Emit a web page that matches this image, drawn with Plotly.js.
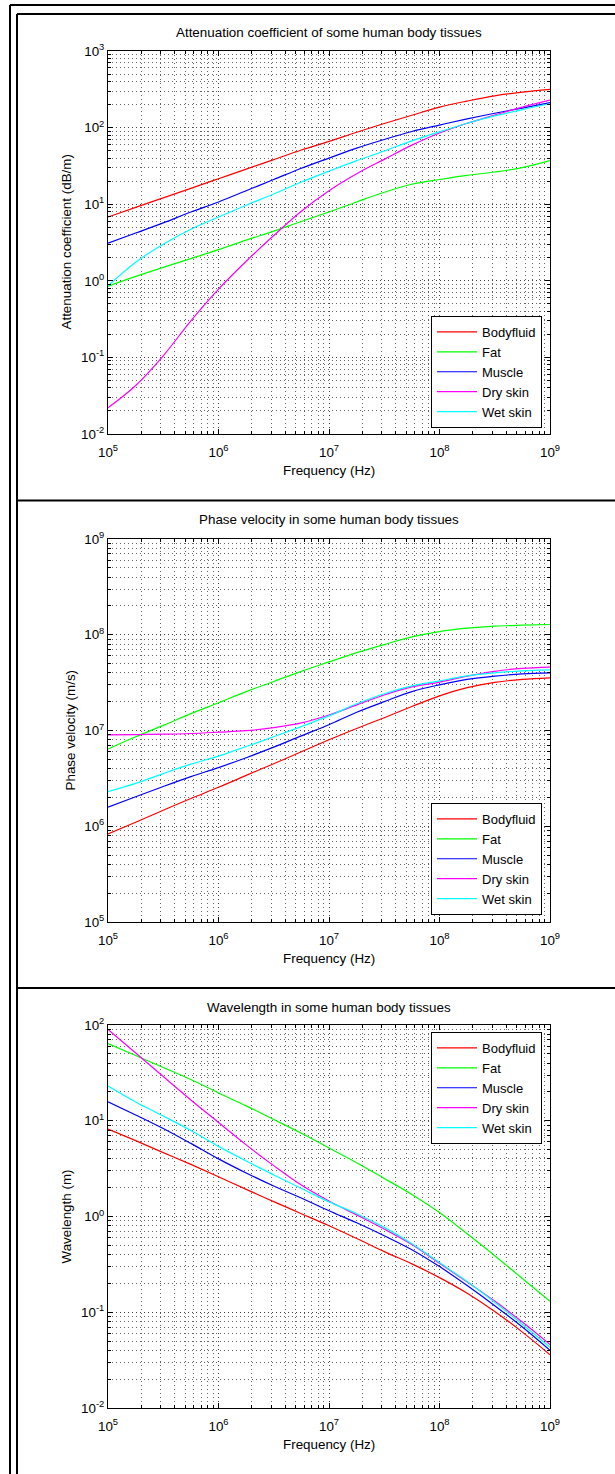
<!DOCTYPE html>
<html><head><meta charset="utf-8">
<script src="https://cdn.plot.ly/plotly-3.0.1.min.js"></script>
<style>html,body{margin:0;padding:0;background:#fff;}#chart{width:615px;height:1474px;}</style>
</head><body><div id="chart"></div>
<script>
// ---------------- data (quarter-decade steps) ----------------
const freq = [1e5,1.78e5,3.16e5,5.62e5,1e6,1.78e6,3.16e6,5.62e6,1e7,1.78e7,3.16e7,5.62e7,1e8,1.78e8,3.16e8,5.62e8,1e9];
const tissues = ['Bodyfluid','Fat','Muscle','Dry skin','Wet skin'];

// Attenuation coefficient (dB/m)
const attBodyfluid = [6.8,9.1,12.1,16.1,21.5,28.7,38.2,51,66,87,113,145,185,222,260,290,315];
const attFat       = [0.85,1.14,1.5,1.95,2.55,3.4,4.45,5.95,7.9,10.7,14.3,18.2,21,23.8,26.3,30,37];
const attMuscle    = [3.1,4.2,5.7,7.9,10.7,15,21,29.5,40,54,70,89,108,130,154,180,212];
const attDrySkin   = [0.022,0.043,0.105,0.3,0.78,1.8,3.9,8.1,15,25,38.5,59,85,114,146,185,228];
const attWetSkin   = [0.86,1.75,3.0,4.7,6.8,9.7,13.6,19.5,27,37,49.5,67,88,114,142,172,205];

// Phase velocity (m/s)
const velBodyfluid = [8.3e5,1.1e6,1.47e6,1.95e6,2.55e6,3.4e6,4.5e6,6.0e6,8.0e6,1.05e7,1.36e7,1.78e7,2.3e7,2.8e7,3.18e7,3.42e7,3.55e7];
const velFat       = [6.4e6,8.6e6,1.13e7,1.5e7,1.95e7,2.55e7,3.25e7,4.15e7,5.2e7,6.5e7,7.9e7,9.5e7,1.08e8,1.17e8,1.23e8,1.26e8,1.28e8];
const velMuscle    = [1.58e6,2.03e6,2.6e6,3.3e6,4.1e6,5.2e6,6.7e6,8.8e6,1.15e7,1.55e7,2.0e7,2.55e7,3.0e7,3.42e7,3.7e7,3.9e7,4.0e7];
const velDrySkin   = [9.0e6,9.05e6,9.15e6,9.3e6,9.6e6,9.95e6,1.07e7,1.2e7,1.45e7,1.85e7,2.35e7,2.85e7,3.2e7,3.7e7,4.15e7,4.45e7,4.6e7];
const velWetSkin   = [2.3e6,2.8e6,3.55e6,4.45e6,5.4e6,6.8e6,8.6e6,1.1e7,1.42e7,1.9e7,2.42e7,2.92e7,3.3e7,3.72e7,4.0e7,4.2e7,4.3e7];

// Wavelength (m)
const wlBodyfluid = [8.2,6.2,4.65,3.5,2.6,1.92,1.43,1.07,0.8,0.59,0.43,0.32,0.23,0.158,0.102,0.062,0.036];
const wlFat       = [64,48,36,27,19.5,14.3,10.3,7.4,5.2,3.65,2.5,1.7,1.1,0.66,0.39,0.225,0.13];
const wlMuscle    = [15.8,11.5,8.3,5.8,4.0,2.85,2.08,1.56,1.15,0.86,0.63,0.45,0.3,0.19,0.117,0.07,0.04];
const wlDrySkin   = [90,51,29,16.5,9.6,5.6,3.4,2.13,1.45,1.04,0.74,0.51,0.325,0.207,0.131,0.079,0.046];
const wlWetSkin   = [23,15.7,11.2,7.9,5.4,3.8,2.72,1.96,1.42,1.07,0.77,0.52,0.33,0.209,0.127,0.075,0.043];

// tick exponents
const xExps  = [5,6,7,8,9];
const y1Exps = [-2,-1,0,1,2,3];
const y2Exps = [5,6,7,8,9];
const y3Exps = [-2,-1,0,1,2];

const titles = ['Attenuation coefficient of some human body tissues','Phase velocity in some human body tissues','Wavelength in some human body tissues'];
const yTitles = ['Attenuation coefficient (dB/m)','Phase velocity (m/s)','Wavelength (m)'];
const xTitle = 'Frequency (Hz)';

// ---------------- styling ----------------
const W = 615, H = 1474;
const px = x => x / W;
const py = y => 1 - y / H;
const colors = ['#ff0000','#00ff00','#0000ff','#ff00ff','#00ffff'];
const FONT = 'Liberation Sans, Arial, Helvetica, sans-serif';
const FS = 13.4;

const panels = [
  {top:51, bottom:434, series:[attBodyfluid,attFat,attMuscle,attDrySkin,attWetSkin], yExps:y1Exps, legend:{y:py(428), yanchor:'bottom'}, titleY:33, ytX:66},
  {top:539, bottom:922, series:[velBodyfluid,velFat,velMuscle,velDrySkin,velWetSkin], yExps:y2Exps, legend:{y:py(915), yanchor:'bottom'}, titleY:520, ytX:70},
  {top:1025, bottom:1408, series:[wlBodyfluid,wlFat,wlMuscle,wlDrySkin,wlWetSkin], yExps:y3Exps, legend:{y:py(1032), yanchor:'top'}, titleY:1007, ytX:66}
];
const plotL = 108, plotR = 550;

function logAxis(exps, standoff){
  const minorVals = [];
  for (let i = 0; i < exps.length - 1; i++)
    for (let k = 2; k <= 9; k++) minorVals.push(k * Math.pow(10, exps[i]));
  return {
    type:'log', range:[exps[0], exps[exps.length-1]],
    tickmode:'array', tickvals:exps.map(e => Math.pow(10, e)),
    ticktext:exps.map(e => '10<sup>' + e + '</sup>'),
    ticks:'inside', ticklen:5, tickwidth:1, tickcolor:'#000',
    ticklabelstandoff:standoff,
    showline:true, linecolor:'#000', linewidth:1, mirror:'ticks',
    showgrid:true, gridcolor:'rgba(0,0,0,0.75)', griddash:'1px,3px', gridwidth:1,
    zeroline:false, fixedrange:true,
    tickfont:{family:FONT, size:FS, color:'#000'},
    minor:{tickmode:'array', tickvals:minorVals, ticks:'inside', ticklen:3, tickwidth:1, tickcolor:'#000',
           showgrid:true, gridcolor:'rgba(0,0,0,0.6)', griddash:'1px,3px', gridwidth:1}
  };
}

const data = [];
const layout = {
  width:W, height:H, margin:{l:0,r:0,t:0,b:0},
  paper_bgcolor:'#fff', plot_bgcolor:'#fff',
  font:{family:FONT, size:FS, color:'#000'},
  showlegend:true, annotations:[], shapes:[]
};

panels.forEach((p, i) => {
  const n = i === 0 ? '' : String(i + 1);
  const xa = 'x' + n, ya = 'y' + n;
  const legName = 'legend' + n;
  p.series.forEach((vals, j) => {
    data.push({
      type:'scatter', mode:'lines', x:freq, y:vals, name:tissues[j],
      xaxis:xa, yaxis:ya, legend:legName, legendgroup:'g' + i,
      line:{color:colors[j], width:1.2, shape:'spline', smoothing:1}
    });
  });
  layout['xaxis' + n] = Object.assign(logAxis(xExps, 6), {domain:[px(plotL), px(plotR)], anchor:ya});
  layout['yaxis' + n] = Object.assign(logAxis(p.yExps, 0), {domain:[py(p.bottom), py(p.top)], anchor:xa});
  layout[legName] = Object.assign({
    x:px(542), xanchor:'right', bgcolor:'#fff', bordercolor:'#000', borderwidth:1,
    font:{family:FONT, size:13, color:'#000'}, itemwidth:40, tracegroupgap:0, traceorder:'normal'
  }, p.legend);
  const cx = px((plotL + plotR) / 2);
  layout.annotations.push(
    {xref:'paper', yref:'paper', x:cx, y:py(p.titleY), text:titles[i], showarrow:false, xanchor:'center', yanchor:'middle', font:{family:FONT, size:FS, color:'#000'}},
    {xref:'paper', yref:'paper', x:cx, y:py(p.bottom + 36), text:xTitle, showarrow:false, xanchor:'center', yanchor:'middle', font:{family:FONT, size:FS, color:'#000'}},
    {xref:'paper', yref:'paper', x:px(p.ytX), y:py((p.top + p.bottom) / 2), text:yTitles[i], showarrow:false, textangle:-90, xanchor:'center', yanchor:'middle', font:{family:FONT, size:FS, color:'#000'}}
  );
});

const L = (x0, y0, x1, y1) => ({type:'line', xref:'paper', yref:'paper', x0:px(x0), y0:py(y0), x1:px(x1), y1:py(y1), line:{color:'#000', width:2}});
layout.shapes.push(
  L(10, 5, 10, H), L(10, 5, W, 5),
  L(17, 14, 17, H), L(17, 14, W, 14),
  L(17, 500.5, W, 500.5), L(17, 988, W, 988)
);

Plotly.newPlot('chart', data, layout, {displayModeBar:false, staticPlot:true});
</script></body></html>
